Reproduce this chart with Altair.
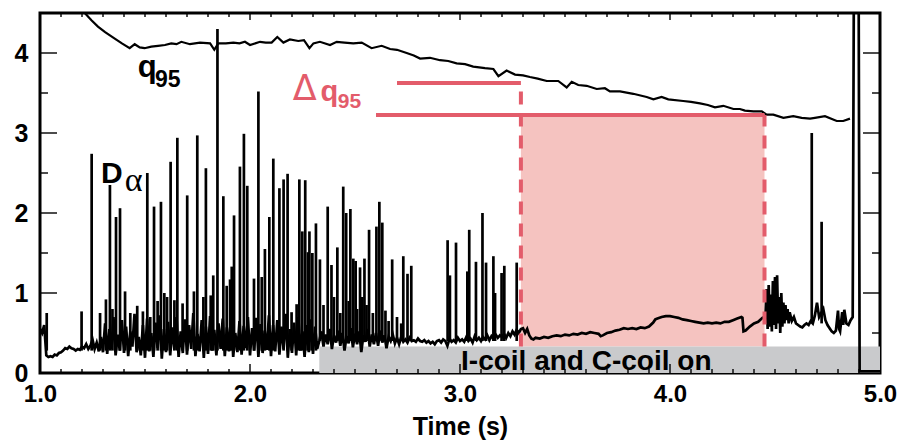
import altair as alt
import pandas as pd

# ---------------- data ----------------
# q95 trace (time s, value)
q95_points = [
    [1.20, 4.53], [1.213, 4.50], [1.245, 4.41], [1.276, 4.33], [1.31, 4.26], [1.356, 4.18],
    [1.39, 4.12], [1.427, 4.06], [1.451, 4.11], [1.475, 4.07], [1.498, 4.06], [1.53, 4.08],
    [1.562, 4.09], [1.595, 4.10], [1.625, 4.12], [1.65, 4.11], [1.673, 4.14], [1.714, 4.11],
    [1.762, 4.13], [1.81, 4.12], [1.830, 4.04], [1.849, 4.12], [1.885, 4.12], [1.921, 4.13],
    [1.95, 4.12], [1.976, 4.14], [2.0, 4.10], [2.048, 4.14], [2.075, 4.13], [2.103, 4.13],
    [2.130, 4.20], [2.159, 4.13], [2.19, 4.17], [2.23, 4.15], [2.257, 4.16], [2.283, 4.06],
    [2.302, 4.12], [2.333, 4.14], [2.381, 4.10], [2.413, 4.14], [2.45, 4.13], [2.492, 4.12],
    [2.532, 4.13], [2.579, 4.06], [2.627, 4.09], [2.667, 4.05], [2.70, 4.04], [2.746, 4.00],
    [2.78, 3.97], [2.81, 3.93], [2.857, 3.94], [2.905, 3.91], [2.944, 3.90], [2.984, 3.87],
    [3.024, 3.86], [3.063, 3.83], [3.119, 3.81], [3.159, 3.80], [3.183, 3.71], [3.222, 3.78],
    [3.262, 3.73], [3.30, 3.72], [3.333, 3.70], [3.37, 3.68], [3.413, 3.65], [3.468, 3.65],
    [3.508, 3.57], [3.532, 3.64], [3.563, 3.60], [3.603, 3.59], [3.651, 3.55], [3.69, 3.56],
    [3.714, 3.52], [3.762, 3.52], [3.825, 3.49], [3.889, 3.45], [3.921, 3.42], [3.960, 3.45],
    [3.992, 3.42], [4.063, 3.40], [4.10, 3.39], [4.143, 3.37], [4.18, 3.35], [4.214, 3.32],
    [4.254, 3.34], [4.302, 3.30], [4.333, 3.30], [4.357, 3.28], [4.397, 3.27], [4.437, 3.27],
    [4.460, 3.23], [4.492, 3.23], [4.540, 3.19], [4.587, 3.21], [4.627, 3.19], [4.667, 3.18],
    [4.690, 3.19], [4.738, 3.21], [4.794, 3.15], [4.825, 3.15], [4.857, 3.18],
]

# D-alpha baseline sampled every 0.01 s from 1.00 s to 3.29 s
da_start, da_step = 1.00, 0.01
da_grid_values = [
    0.55, 0.50, 0.60, 0.22, 0.20, 0.21, 0.20, 0.23, 0.22, 0.25,
    0.26, 0.28, 0.31, 0.30, 0.33, 0.31, 0.30, 0.28, 0.30, 0.29,
    0.33, 0.31, 0.36, 0.30, 0.34, 0.42, 0.30, 0.38, 0.27, 0.45,
    0.26, 0.62, 0.24, 0.55, 0.30, 0.70, 0.22, 0.48, 0.28, 0.66,
    0.25, 0.58, 0.21, 0.52, 0.33, 0.74, 0.26, 0.45, 0.22, 0.60,
    0.19, 0.68, 0.27, 0.50, 0.20, 0.63, 0.31, 0.72, 0.18, 0.55,
    0.26, 0.64, 0.22, 0.57, 0.29, 0.70, 0.20, 0.52, 0.25, 0.67,
    0.23, 0.60, 0.30, 0.75, 0.21, 0.49, 0.27, 0.66, 0.19, 0.58,
    0.24, 0.71, 0.28, 0.54, 0.22, 0.62, 0.30, 0.68, 0.21, 0.57,
    0.27, 0.73, 0.20, 0.50, 0.26, 0.65, 0.23, 0.59, 0.31, 0.70,
    0.22, 0.56, 0.28, 0.69, 0.20, 0.61, 0.25, 0.53, 0.29, 0.72,
    0.21, 0.60, 0.27, 0.66, 0.23, 0.58, 0.30, 0.74, 0.19, 0.55,
    0.25, 0.63, 0.22, 0.70, 0.28, 0.52, 0.20, 0.60, 0.26, 0.67,
    0.24, 0.58, 0.30,
    0.40, 0.52, 0.33, 0.48, 0.36, 0.55, 0.30, 0.47,
    0.38, 0.53, 0.34, 0.50, 0.28, 0.46, 0.37, 0.56, 0.32, 0.49,
    0.36, 0.52, 0.26, 0.47, 0.39, 0.55, 0.33, 0.48, 0.36, 0.50,
    0.34, 0.53, 0.38, 0.47, 0.31, 0.45, 0.40, 0.48, 0.37, 0.44,
    0.36, 0.45, 0.39, 0.42, 0.38, 0.44, 0.40, 0.41, 0.39, 0.43,
    0.40, 0.39, 0.41, 0.38, 0.40, 0.37, 0.39, 0.36, 0.40, 0.41,
    0.38, 0.42, 0.40, 0.34, 0.43, 0.39, 0.41, 0.38, 0.44, 0.40,
    0.42, 0.39, 0.45, 0.40, 0.43, 0.38, 0.46, 0.41, 0.44, 0.40,
    0.45, 0.42, 0.47, 0.41, 0.46, 0.43, 0.48, 0.44, 0.47, 0.45,
    0.49, 0.44, 0.50, 0.46, 0.52, 0.48, 0.54, 0.50, 0.55,
]

# D-alpha trace after 3.30 s (time s, value)
da_late_points = [
    [3.30, 0.56], [3.31, 0.50], [3.32, 0.55], [3.33, 0.47], [3.34, 0.43], [3.35, 0.42],
    [3.36, 0.44], [3.38, 0.43], [3.40, 0.45], [3.42, 0.44], [3.44, 0.46], [3.46, 0.47],
    [3.48, 0.46], [3.50, 0.48], [3.52, 0.47], [3.54, 0.49], [3.56, 0.48], [3.58, 0.50],
    [3.60, 0.49], [3.62, 0.51], [3.64, 0.50], [3.66, 0.49], [3.67, 0.46], [3.68, 0.47],
    [3.70, 0.50], [3.72, 0.51], [3.74, 0.53], [3.76, 0.54], [3.78, 0.56], [3.80, 0.55],
    [3.82, 0.56], [3.84, 0.55], [3.86, 0.57], [3.88, 0.56], [3.90, 0.58], [3.92, 0.63],
    [3.93, 0.67], [3.94, 0.68], [3.96, 0.70], [3.98, 0.71], [4.00, 0.71], [4.02, 0.70],
    [4.04, 0.69], [4.06, 0.67], [4.08, 0.66], [4.10, 0.65], [4.12, 0.64], [4.14, 0.63],
    [4.16, 0.62], [4.18, 0.63], [4.20, 0.62], [4.22, 0.63], [4.24, 0.62], [4.26, 0.64],
    [4.28, 0.64], [4.30, 0.66], [4.32, 0.68], [4.34, 0.70], [4.345, 0.69], [4.35, 0.52],
    [4.36, 0.53], [4.38, 0.58], [4.40, 0.62], [4.42, 0.64], [4.44, 0.69], [4.45, 0.70],
    [4.455, 0.72], [4.46, 1.05], [4.465, 0.55], [4.47, 1.10], [4.475, 0.58], [4.48, 0.98],
    [4.485, 0.52], [4.49, 1.15], [4.495, 0.60], [4.50, 1.20], [4.505, 0.55], [4.51, 1.22],
    [4.515, 0.62], [4.52, 0.95], [4.525, 0.50], [4.53, 1.00], [4.535, 0.58], [4.54, 0.88],
    [4.545, 0.62], [4.55, 0.85], [4.555, 0.66], [4.56, 0.80], [4.565, 0.62], [4.57, 0.76],
    [4.58, 0.65], [4.59, 0.70], [4.60, 0.62], [4.61, 0.60], [4.62, 0.58], [4.63, 0.57],
    [4.64, 0.60], [4.65, 0.62], [4.66, 0.60], [4.67, 0.65], [4.68, 0.62], [4.69, 0.72],
    [4.70, 0.88], [4.71, 0.70], [4.72, 0.75], [4.73, 0.80], [4.74, 0.66], [4.75, 0.60],
    [4.76, 0.56], [4.77, 0.52], [4.78, 0.50], [4.79, 0.53], [4.80, 0.78], [4.805, 0.55],
    [4.81, 0.52], [4.82, 0.76], [4.825, 0.60], [4.83, 0.79], [4.84, 0.62], [4.85, 0.60],
    [4.86, 0.66], [4.87, 0.70], [4.876, 5.2], [4.898, 5.2], [4.903, 0.02], [5.0, 0.02],
]

# D-alpha ELM spikes: time (s) and peak value
spike_t = [1.032, 1.198, 1.246, 1.286, 1.314, 1.333, 1.345, 1.362, 1.381, 1.405,
           1.430, 1.463, 1.490, 1.511, 1.525, 1.543, 1.560, 1.576, 1.592, 1.605,
           1.622, 1.640, 1.654, 1.679, 1.701, 1.733, 1.749, 1.778, 1.790, 1.813,
           1.825, 1.845, 1.873, 1.889, 1.905, 1.913, 1.924, 1.952, 1.971, 1.987,
           2.019, 2.040, 2.056, 2.071, 2.092, 2.111, 2.140, 2.160, 2.179, 2.198,
           2.222, 2.235, 2.249, 2.263, 2.276, 2.283, 2.297, 2.314, 2.333, 2.350,
           2.370, 2.388, 2.400, 2.416, 2.430, 2.444, 2.458, 2.470, 2.478, 2.492,
           2.503, 2.510, 2.524, 2.535, 2.545, 2.555, 2.567, 2.585, 2.602, 2.616,
           2.630, 2.645, 2.660, 2.677, 2.700, 2.720, 2.730, 2.750, 2.768, 2.941,
           2.952, 2.981, 3.035, 3.044, 3.076, 3.107, 3.124, 3.159, 3.167, 3.198,
           3.211, 3.270, 4.675, 4.722]
spike_peak = [0.75, 0.77, 2.74, 0.75, 0.92, 2.35, 0.80, 1.95, 2.06, 1.02,
              0.75, 0.84, 0.77, 2.50, 0.70, 2.08, 0.90, 2.14, 1.00, 0.95,
              2.64, 0.91, 2.94, 0.87, 2.22, 1.02, 2.97, 0.95, 2.56, 0.97,
              1.22, 4.30, 2.21, 1.09, 1.17, 1.33, 1.97, 2.58, 2.99, 2.34,
              1.18, 3.52, 1.20, 1.55, 1.95, 2.68, 2.31, 2.42, 2.49, 0.76,
              0.86, 2.42, 1.77, 2.41, 1.51, 1.77, 1.50, 1.87, 1.42, 0.85,
              2.08, 1.35, 0.95, 1.57, 0.75, 2.33, 2.00, 0.90, 2.05, 1.43,
              1.40, 0.80, 1.32, 0.95, 1.43, 0.85, 1.79, 0.75, 1.83, 2.14,
              1.88, 0.78, 0.65, 1.42, 0.70, 0.62, 1.46, 1.24, 1.34, 1.66,
              1.22, 1.63, 1.27, 1.79, 1.39, 2.00, 1.38, 1.46, 1.00, 1.25,
              1.34, 1.38, 3.00, 1.89]

# shaded regions / annotation lines (time s, value)
coil_on = [2.33, 5.0]          # I-coil and C-coil on (time range)
coil_band_top = 0.33
dq_window = [3.29, 4.45]       # Delta q95 window
dq_levels = [3.625, 3.225]     # q95 at start / end of window
dq_line_starts = [2.70, 2.60]

x_major = [2.0, 3.0, 4.0]
x_minor = [1.1, 1.2, 1.3, 1.4, 1.5, 1.6, 1.7, 1.8, 1.9,
           2.1, 2.2, 2.3, 2.4, 2.5, 2.6, 2.7, 2.8, 2.9,
           3.1, 3.2, 3.3, 3.4, 3.5, 3.6, 3.7, 3.8, 3.9,
           4.1, 4.2, 4.3, 4.4, 4.5, 4.6, 4.7, 4.8, 4.9]
x_labels = [1.0, 2.0, 3.0, 4.0, 5.0]
y_major = [1, 2, 3, 4]
y_minor = [0.5, 1.5, 2.5, 3.5]
y_labels = [0, 1, 2, 3, 4]

# ---------------- build ----------------
FONT = "Liberation Sans"
RED = "#e35c6b"
PINK = "#f5c3c0"
GRAY = "#c9cacc"

XS = alt.Scale(domain=[1.0, 5.0], nice=False, zero=False)
YS = alt.Scale(domain=[0, 4.5], nice=False, zero=False)

xaxis = alt.Axis(values=x_labels, format=".1f", title="Time (s)", ticks=False, tickSize=0,
                 domain=False, grid=False, labelFont=FONT, labelFontSize=24,
                 labelFontWeight="bold", labelColor="black", labelPadding=9,
                 labelFlush=False, labelOverlap=False,
                 titleFont=FONT, titleFontSize=25, titleFontWeight="bold",
                 titleColor="black", titlePadding=8)
yaxis = alt.Axis(values=y_labels, format="d", title="", ticks=False, tickSize=0,
                 domain=False, grid=False, labelFont=FONT, labelFontSize=25,
                 labelFontWeight="bold", labelColor="black", labelPadding=12,
                 labelFlush=False, labelOverlap=False)


def X(field):
    return alt.X(field, type="quantitative", scale=XS, axis=xaxis)


def Y(field):
    return alt.Y(field, type="quantitative", scale=YS, axis=yaxis)


q95_df = pd.DataFrame(q95_points, columns=["t", "v"])
grid_df = pd.DataFrame({"t": [round(da_start + da_step * i, 3) for i in range(len(da_grid_values))],
                        "v": da_grid_values})
da_df = pd.concat([grid_df, pd.DataFrame(da_late_points, columns=["t", "v"])], ignore_index=True)
spk_df = pd.DataFrame({"t": spike_t, "v": spike_peak})
spk_df["b"] = [0.28 if t < 2.33 else (0.40 if t < 4.0 else 0.62) for t in spike_t]

one = pd.DataFrame({"k": [0]})

pink = alt.Chart(pd.DataFrame({"x": [dq_window[0]], "x2": [dq_window[1]],
                               "y": [coil_band_top], "y2": [dq_levels[1]]})).mark_rect(
    color=PINK).encode(x=X("x"), x2="x2", y=Y("y"), y2="y2")

gray = alt.Chart(pd.DataFrame({"x": [coil_on[0]], "x2": [coil_on[1]],
                               "y": [0.0], "y2": [coil_band_top]})).mark_rect(
    color=GRAY).encode(x=X("x"), x2="x2", y=Y("y"), y2="y2")

q95_line = alt.Chart(q95_df).mark_line(color="black", strokeWidth=2.2, clip=True).encode(
    x=X("t"), y=Y("v"))

da_line = alt.Chart(da_df).mark_line(color="black", strokeWidth=2.7, clip=True).encode(
    x=X("t"), y=Y("v"))

spikes = alt.Chart(spk_df).mark_rule(color="black", strokeWidth=2.7, clip=True).encode(
    x=X("t"), y=Y("b"), y2="v")

hlines = alt.Chart(pd.DataFrame({"x": dq_line_starts, "x2": [dq_window[0], dq_window[1]],
                                 "y": dq_levels})).mark_rule(
    color=RED, strokeWidth=4).encode(x=X("x"), x2="x2", y=Y("y"))

vlines = alt.Chart(pd.DataFrame({"x": dq_window, "y": [coil_band_top, coil_band_top],
                                 "y2": dq_levels})).mark_rule(
    color=RED, strokeWidth=4, strokeDash=[13, 9]).encode(x=X("x"), y=Y("y"), y2="y2")


def label(text, t, v, size, color="black", font=FONT, weight="bold"):
    return alt.Chart(one).mark_text(text=text, align="left", baseline="alphabetic",
                                    fontSize=size, font=font, fontWeight=weight,
                                    color=color).encode(x=alt.XDatum(t), y=alt.YDatum(v))


texts = [
    label("q", 1.466, 3.70, 31),
    label("95", 1.548, 3.58, 23),
    label("D", 1.290, 2.37, 30),
    label("\u03b1", 1.403, 2.28, 34, font="Liberation Serif", weight="normal"),
    label("\u0394", 2.203, 3.41, 35, color=RED, font="DejaVu Sans", weight="normal"),
    label("q", 2.336, 3.40, 29, color=RED),
    label("95", 2.418, 3.31, 21, color=RED),
    label("I-coil and C-coil on", 3.005, 0.04, 28),
]

W, H = 840, 360
tk = dict(color="black", thickness=2)
ticks = [
    alt.Chart(pd.DataFrame({"x": x_minor})).mark_tick(orient="vertical", size=4, **tk).encode(
        x=X("x"), y=alt.value(H - 2)),
    alt.Chart(pd.DataFrame({"x": x_major})).mark_tick(orient="vertical", size=9, **tk).encode(
        x=X("x"), y=alt.value(H - 4.5)),
    alt.Chart(pd.DataFrame({"x": x_minor})).mark_tick(orient="vertical", size=4, **tk).encode(
        x=X("x"), y=alt.value(2)),
    alt.Chart(pd.DataFrame({"x": x_major})).mark_tick(orient="vertical", size=7, **tk).encode(
        x=X("x"), y=alt.value(3.5)),
    alt.Chart(pd.DataFrame({"y": y_major})).mark_tick(orient="horizontal", size=17, **tk).encode(
        y=Y("y"), x=alt.value(8.5)),
    alt.Chart(pd.DataFrame({"y": y_minor})).mark_tick(orient="horizontal", size=8, **tk).encode(
        y=Y("y"), x=alt.value(4)),
    alt.Chart(pd.DataFrame({"y": y_major})).mark_tick(orient="horizontal", size=17, **tk).encode(
        y=Y("y"), x=alt.value(W - 8.5)),
    alt.Chart(pd.DataFrame({"y": y_minor})).mark_tick(orient="horizontal", size=8, **tk).encode(
        y=Y("y"), x=alt.value(W - 4)),
]

chart = alt.layer(pink, gray, q95_line, da_line, spikes, hlines, vlines, *texts, *ticks).properties(
    width=W, height=H,
    autosize=alt.AutoSizeParams(type="none"),
    padding={"left": 40, "top": 13, "right": 23, "bottom": 67},
    background="white",
).configure_view(stroke="black", strokeWidth=3)

chart.save("out.html", embed_options={"renderer": "svg", "actions": False})
